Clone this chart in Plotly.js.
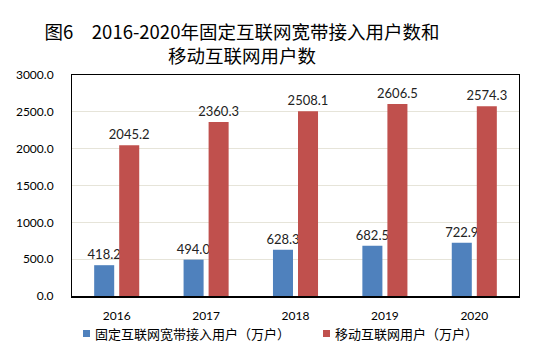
<!DOCTYPE html>
<html>
<head>
<meta charset="utf-8">
<script src="https://cdn.plot.ly/plotly-3.0.1.min.js"></script>
<style>html,body{margin:0;padding:0;background:#fff;}#chart{width:551px;height:359px;}</style>
</head>
<body>
<div id="chart"></div>
<script>
const years = ['2016', '2017', '2018', '2019', '2020'];
const broadband = [418.2, 494.0, 628.3, 682.5, 722.9];
const mobile = [2045.2, 2360.3, 2508.1, 2606.5, 2574.3];
const seriesNames = ['固定互联网宽带接入用户（万户）', '移动互联网用户（万户）'];
const seriesColors = ['#4f81bd', '#c0504d'];
const titleText = '图6　2016-2020年固定互联网宽带接入用户数和<br>移动互联网用户数';

const fontFam = '"Noto Sans CJK SC", "Noto Sans", sans-serif';
const numFam = 'Lato, "Noto Sans", sans-serif';
const W = 551, H = 359;
const M = {l: 72, r: 32, t: 75, b: 63};
const pw = W - M.l - M.r, ph = H - M.t - M.b;
const px = x => (x - M.l) / pw;
const py = y => (H - M.b - y) / ph;

const traces = [
  {type: 'bar', x: years, y: broadband, name: seriesNames[0], marker: {color: seriesColors[0]},
   text: broadband.map(v => v.toFixed(1)), textposition: 'outside', cliponaxis: false, constraintext: 'none',
   textfont: {size: 13, color: '#222', family: numFam}},
  {type: 'bar', x: years, y: mobile, name: seriesNames[1], marker: {color: seriesColors[1]},
   text: mobile.map(v => v.toFixed(1)), textposition: 'outside', cliponaxis: false, constraintext: 'none',
   textfont: {size: 13, color: '#222', family: numFam}}
];

const legendX = [83, 323];
const shapes = [], annotations = [];
seriesNames.forEach((n, i) => {
  shapes.push({type: 'rect', xref: 'paper', yref: 'paper', x0: px(legendX[i]), x1: px(legendX[i] + 7),
               y0: py(337), y1: py(330), fillcolor: seriesColors[i], line: {width: 0}});
  annotations.push({xref: 'paper', yref: 'paper', x: px(legendX[i] + 10), y: py(333), xanchor: 'left',
                    yanchor: 'middle', text: n, showarrow: false, font: {size: 13, color: '#000', family: fontFam}});
});

const layout = {
  width: W, height: H,
  margin: M,
  paper_bgcolor: '#fff', plot_bgcolor: '#fff',
  font: {family: fontFam, color: '#000'},
  title: {text: titleText, font: {size: 18.5, color: '#000', family: fontFam},
          x: 242 / W, xanchor: 'center', y: 1 - 39 / H, yanchor: 'middle', xref: 'container', yref: 'container'},
  barmode: 'group', bargap: 0.44, bargroupgap: 0.2,
  xaxis: {type: 'category', showline: true, linecolor: '#000', linewidth: 1.5, mirror: true,
          ticks: '', tickfont: {size: 12, color: '#000', family: numFam}, ticklabelstandoff: 8},
  yaxis: {range: [0, 3000], dtick: 500, tickformat: '.1f', showline: true, linecolor: '#000', linewidth: 1,
          mirror: true, gridcolor: '#e6e4d9', gridwidth: 1, zeroline: false, ticks: '',
          tickfont: {size: 12, color: '#000', family: numFam}, ticklabelstandoff: 15},
  showlegend: false,
  shapes: shapes,
  annotations: annotations
};
Plotly.newPlot('chart', traces, layout, {displayModeBar: false, staticPlot: true});
</script>
</body>
</html>
